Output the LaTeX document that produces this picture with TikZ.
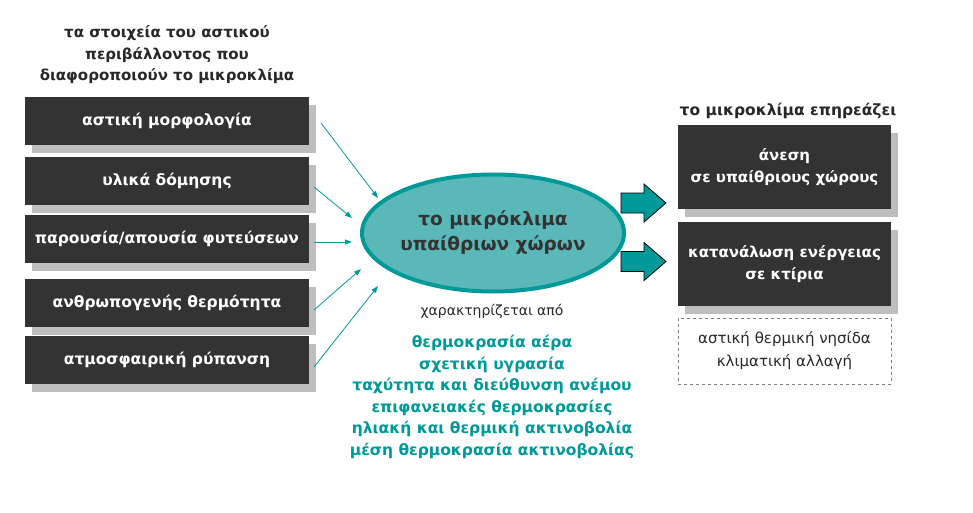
\documentclass[tikz,border=0pt]{standalone}
\usepackage{fontspec}
\setmainfont{DejaVu Sans}
\usetikzlibrary{shapes.geometric,arrows.meta,shadows}
\definecolor{teal1}{RGB}{0,153,153}
\definecolor{ellfill}{RGB}{90,184,184}
\definecolor{boxdark}{RGB}{51,51,51}
\definecolor{shad}{RGB}{190,190,190}
\definecolor{txtdark}{RGB}{40,40,40}
\begin{document}
\begin{tikzpicture}[x=1pt,y=-1pt,
  darkbox/.style={fill=boxdark, text=white, inner sep=0pt, align=center,
    font=\fontsize{15}{22}\selectfont\bfseries,
    general shadow={fill=shad, shadow xshift=7pt, shadow yshift=-8pt}},
  leftbox/.style={darkbox, font=\fontsize{15.5}{22}\selectfont\bfseries, minimum width=284pt, minimum height=48pt},
  rightbox/.style={darkbox, minimum width=213pt, minimum height=84pt},
  heading/.style={text=txtdark, align=center, font=\fontsize{15}{21.5}\selectfont\bfseries},
  thinarrow/.style={draw=teal1, line width=0.8pt, -{Triangle[length=7pt,width=5pt]}},
  blockarrow/.style={fill=teal1, draw=black, line width=0.8pt, line join=miter},
]
\useasboundingbox (0,0) rectangle (973,513);

\node[heading] (lt) at (167,55) {τα στοιχεία του αστικού\\περιβάλλοντος που\\διαφοροποιούν το μικροκλίμα};

\node[leftbox] (b1) at (167,121) {αστική μορφολογία};
\node[leftbox] (b2) at (167,181) {υλικά δόμησης};
\node[leftbox] (b3) at (167,239) {παρουσία/απουσία φυτεύσεων};
\node[leftbox] (b4) at (167,303) {ανθρωπογενής θερμότητα};
\node[leftbox] (b5) at (167,360) {ατμοσφαιρική ρύπανση};

\node[ellipse, draw=teal1, line width=4pt, fill=ellfill, minimum width=247pt, minimum height=117pt,
  inner sep=0pt, align=center, text=boxdark,
  font=\fontsize{18.5}{25}\selectfont\bfseries] (ell) at (493,233) {το μικρόκλιμα\\υπαίθριων χώρων};

\coordinate (s1) at (321,123); \coordinate (e1) at (378,198);
\coordinate (s2) at (314,187); \coordinate (e2) at (352,218);
\coordinate (s3) at (314,242); \coordinate (e3) at (352,242);
\coordinate (s4) at (314,310); \coordinate (e4) at (361,269);
\coordinate (s5) at (314,367); \coordinate (e5) at (378,286);
\draw[thinarrow] (s1) -- (e1);
\draw[thinarrow] (s2) -- (e2);
\draw[thinarrow] (s3) -- (e3);
\draw[thinarrow] (s4) -- (e4);
\draw[thinarrow] (s5) -- (e5);

\node[text=txtdark, font=\fontsize{14}{18}\selectfont] (char) at (492,311) {χαρακτηρίζεται από};

\node[text=teal1, align=center, font=\fontsize{15.5}{21.6}\selectfont\bfseries] (list) at (492,397)
 {θερμοκρασία αέρα\\σχετική υγρασία\\ταχύτητα και διεύθυνση ανέμου\\επιφανειακές θερμοκρασίες\\ηλιακή και θερμική ακτινοβολία\\μέση θερμοκρασία ακτινοβολίας};

\coordinate (a1) at (621,203);
\coordinate (a2) at (621,261.5);
\draw[blockarrow] (a1) ++(0,-10) -- ++(23,0) -- ++(0,-9) -- ++(22,19) -- ++(-22,19) -- ++(0,-9) -- ++(-23,0) -- cycle;
\draw[blockarrow] (a2) ++(0,-10) -- ++(23,0) -- ++(0,-9) -- ++(22,19) -- ++(-22,19) -- ++(0,-9) -- ++(-23,0) -- cycle;

\node[heading, font=\fontsize{15.5}{21.5}\selectfont\bfseries] (rt) at (788,111) {το μικροκλίμα επηρεάζει};
\node[rightbox] (r1) at (784.5,167) {άνεση\\σε υπαίθριους χώρους};
\node[rightbox] (r2) at (784.5,264) {κατανάλωση ενέργειας\\σε κτίρια};

\node[draw=gray, dashed, line width=0.6pt, minimum width=213pt, minimum height=66pt, inner sep=0pt,
  align=center, text=txtdark, font=\fontsize{15}{23}\selectfont] (r3) at (784.5,351)
  {αστική θερμική νησίδα\\κλιματική αλλαγή};
\end{tikzpicture}
\end{document}
